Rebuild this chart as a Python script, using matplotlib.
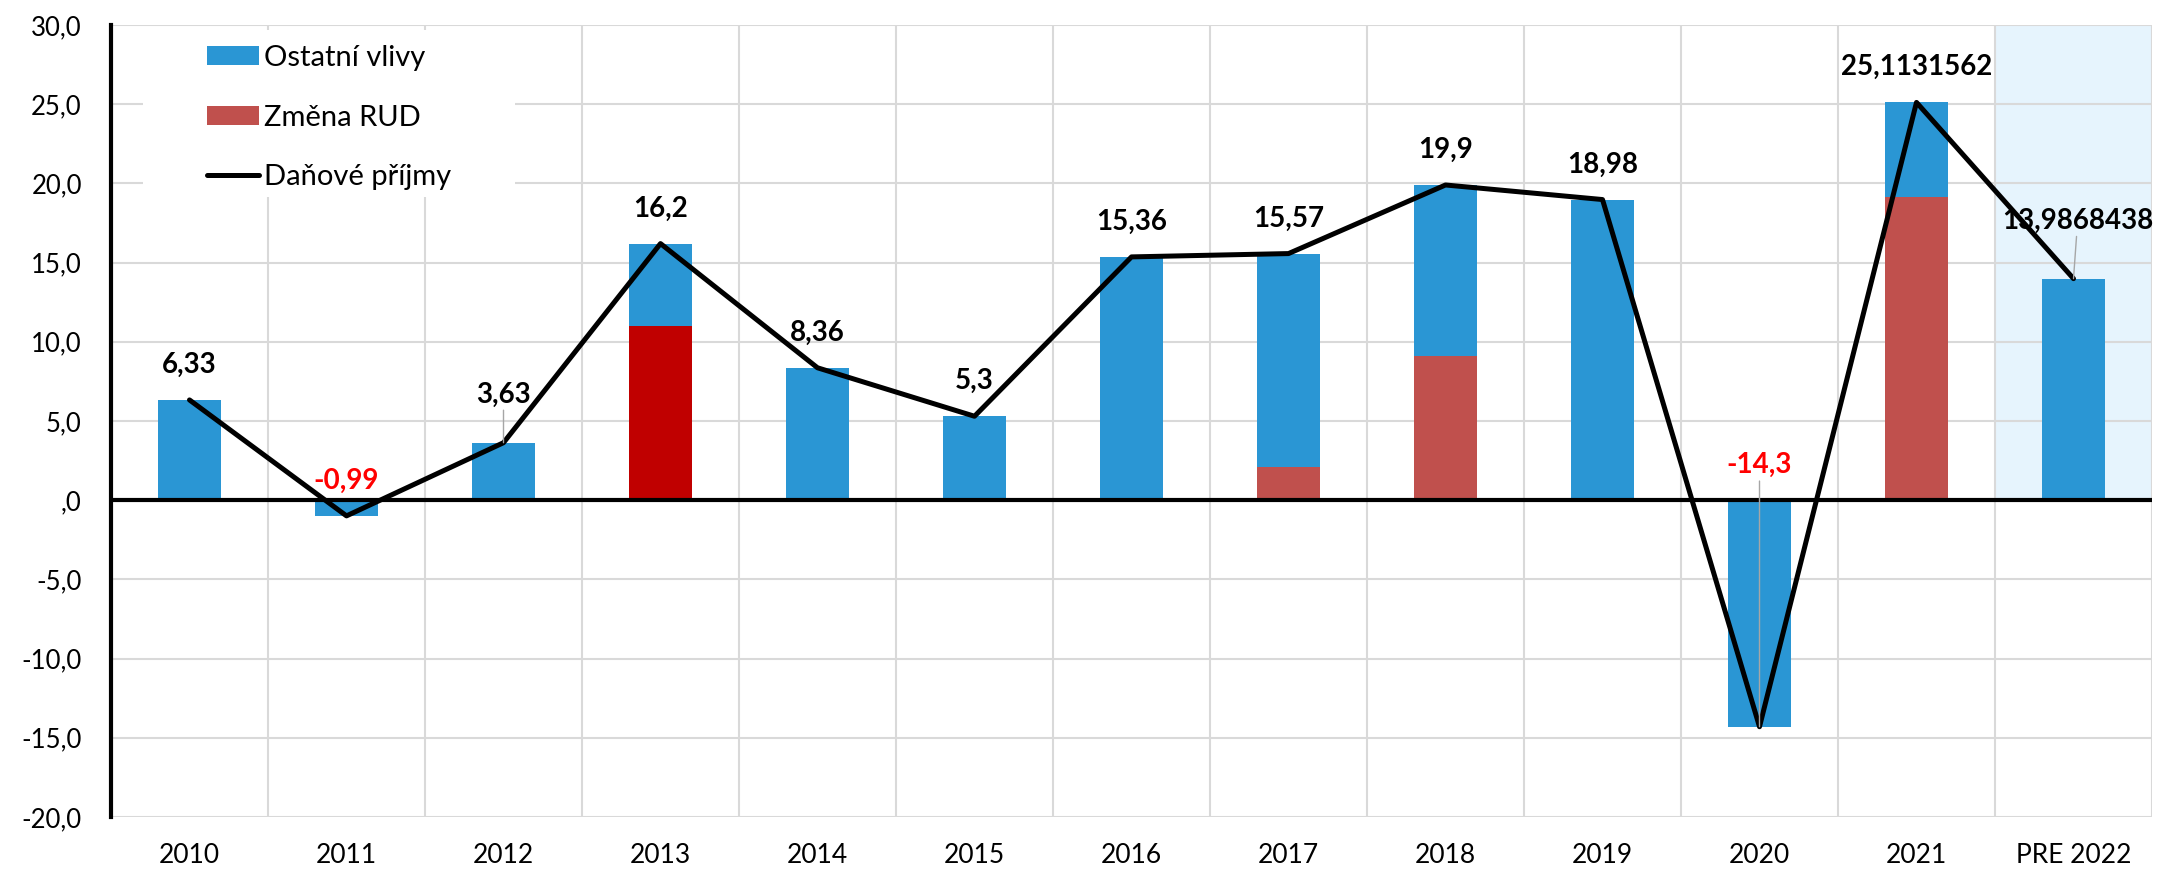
import numpy as np
import matplotlib.pyplot as plt
from matplotlib.patches import Rectangle
from matplotlib.ticker import FuncFormatter

plt.rcParams['font.family'] = ['Lato', 'DejaVu Sans']

# data
roky = ['2010', '2011', '2012', '2013', '2014', '2015', '2016', '2017',
        '2018', '2019', '2020', '2021', 'PRE 2022']
prijmy = [6.33, -0.99, 3.63, 16.2, 8.36, 5.3, 15.36, 15.57, 19.9, 18.98,
          -14.3, 25.1131562, 13.9868438]
zmena_rud = [0, 0, 0, 11.0, 0, 0, 0, 2.1, 9.1, 0, 0, 19.15, 0]
ostatni = [p - r for p, r in zip(prijmy, zmena_rud)]

modra = '#2A96D4'
cervena = ['#C0504D'] * 13
cervena[3] = '#C00000'

W, H = 2159, 872
fig = plt.figure(figsize=(W / 100, H / 100), dpi=100)
ax = fig.add_axes([111 / W, 1 - 817 / H, (2152 - 111) / W, 792 / H])

x = np.arange(len(roky))

# zvyraznena prognoza
ax.axvspan(11.5, 12.5, ymin=0.4, ymax=1, color='#E6F4FD', zorder=0.2, lw=0)

b_rud = ax.bar(x, zmena_rud, width=0.4, color=cervena, zorder=2, label='Změna RUD')
b_ost = ax.bar(x, ostatni, width=0.4, bottom=zmena_rud, color=modra, zorder=2,
               label='Ostatní vlivy')
ln, = ax.plot(x, prijmy, color='black', lw=3.6, zorder=4, label='Daňové příjmy',
              solid_joinstyle='round', solid_capstyle='round')
ax.axhline(0, color='black', lw=3, zorder=3)

# popisky hodnot
for i, v in enumerate(prijmy):
    txt = str(v).replace('.', ',')
    barva = 'red' if v < 0 else 'black'
    kw = dict(ha='center', va='baseline', fontsize=20, fontweight='bold',
              color=barva, zorder=5)
    if i == 2:
        ax.annotate(txt, (i, v), xytext=(0, 29), textcoords='offset points',
                    arrowprops=dict(arrowstyle='-', color='#A6A6A6', lw=1,
                                    shrinkA=0, shrinkB=0), **kw)
    elif i == 12:
        ax.annotate(txt, (i, v), xytext=(3, 36), textcoords='offset points',
                    arrowprops=dict(arrowstyle='-', color='#A6A6A6', lw=1,
                                    shrinkA=0, shrinkB=0), **kw)
    elif i == 10:
        ax.annotate(txt, (i, v), xytext=(i, 1.7), textcoords='data',
                    arrowprops=dict(arrowstyle='-', color='#A6A6A6', lw=1,
                                    shrinkA=0, shrinkB=0), **kw)
    else:
        ax.annotate(txt, (i, v), xytext=(0, 19.5), textcoords='offset points', **kw)

ax.set_xlim(-0.5, 12.5)
ax.set_ylim(-20, 30)
ax.set_xticks(x, roky)
ax.set_xticks(np.arange(-0.5, 13, 1), minor=True)
ax.set_yticks(np.arange(-20, 31, 5))
ax.yaxis.set_major_formatter(FuncFormatter(
    lambda v, p: ',0' if v == 0 else f'{v:.1f}'.replace('.', ',')))
ax.tick_params(axis='y', length=0, pad=21, labelsize=18.5)
ax.tick_params(axis='x', which='both', length=0, pad=19, labelsize=19)

ax.set_axisbelow(True)
ax.yaxis.grid(True, color='#D9D9D9', lw=1.5)
ax.xaxis.grid(True, which='minor', color='#D9D9D9', lw=1.5)
ax.xaxis.grid(False, which='major')
for s in ['top', 'right', 'bottom']:
    ax.spines[s].set_visible(False)
ax.spines['left'].set_linewidth(3)
ax.spines['left'].set_zorder(5)

# bile pozadi legendy
ax.add_patch(Rectangle((32 / 2041, (817 - 197) / 792), 372 / 2041, 167 / 792,
                       transform=ax.transAxes, facecolor='white', lw=0, zorder=1))
ax.legend(handles=[b_ost, b_rud, ln], loc='upper left',
          bbox_to_anchor=(96 / 2041, (817 - 45) / 792), frameon=False,
          fontsize=21, borderpad=0, borderaxespad=0, handlelength=1.78,
          handleheight=0.62, handletextpad=0.17, labelspacing=1.15)

plt.savefig('out.png', dpi=100)
